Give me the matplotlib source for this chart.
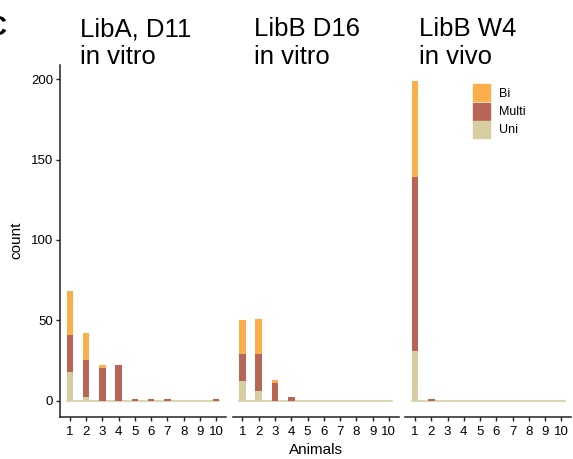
import numpy as np
import matplotlib
matplotlib.use('Agg')
import matplotlib.pyplot as plt
from matplotlib.patches import Patch

plt.rcParams['font.family'] = ['Liberation Sans', 'DejaVu Sans']

animals = [1, 2, 3, 4, 5, 6, 7, 8, 9, 10]
titles = ['LibA, D11\nin vitro', 'LibB D16\nin vitro', 'LibB W4\nin vivo']

# counts per animal, stacked Uni / Multi / Bi
liba_d11_uni   = [18, 2, 0, 0, 0, 0, 0, 0, 0, 0]
liba_d11_multi = [23, 23, 20, 22, 1, 1, 1, 0, 0, 1]
liba_d11_bi    = [27, 17, 2, 0, 0, 0, 0, 0, 0, 0]

libb_d16_uni   = [12, 6, 0, 0, 0, 0, 0, 0, 0, 0]
libb_d16_multi = [17, 23, 11, 2, 0, 0, 0, 0, 0, 0]
libb_d16_bi    = [21, 22, 2, 0, 0, 0, 0, 0, 0, 0]

libb_w4_uni    = [31, 0, 0, 0, 0, 0, 0, 0, 0, 0]
libb_w4_multi  = [108, 1, 0, 0, 0, 0, 0, 0, 0, 0]
libb_w4_bi     = [60, 0, 0, 0, 0, 0, 0, 0, 0, 0]

panels = [
    (liba_d11_uni, liba_d11_multi, liba_d11_bi),
    (libb_d16_uni, libb_d16_multi, libb_d16_bi),
    (libb_w4_uni, libb_w4_multi, libb_w4_bi),
]

col_uni = '#D6CEA0'
col_multi = '#B66557'
col_bi = '#FBAF4C'
axis_col = '#222222'

W, H = 573, 459
fig = plt.figure(figsize=(W / 100, H / 100), dpi=100)

lefts = [60, 232.7, 405.3]
title_x = [80, 254, 419]
pw = 165.9
top, bottom = 65, 416.5
ymax = 199
ylim = (-0.05 * ymax, 1.05 * ymax)
width = 0.4

axes = []
for i, (uni, multi, bi) in enumerate(panels):
    ax = fig.add_axes([lefts[i] / W, (H - bottom) / H, pw / W, (bottom - top) / H])
    x = np.array(animals)
    uni = np.array(uni); multi = np.array(multi); bi = np.array(bi)
    # baseline drawn by the zero-height bars
    ax.plot([x[0] - width / 2, x[-1] + width / 2], [0, 0], color=col_uni, lw=1.2, zorder=1)
    ax.bar(x, uni, width=width, color=col_uni, zorder=2)
    ax.bar(x, multi, width=width, bottom=uni, color=col_multi, zorder=2)
    ax.bar(x, bi, width=width, bottom=uni + multi, color=col_bi, zorder=2)

    ax.set_xlim(0.4, 10.6)
    ax.set_ylim(*ylim)
    ax.set_xticks(animals)
    ax.set_xticklabels([str(a) for a in animals])
    ax.set_yticks([0, 50, 100, 150, 200])
    for s in ['top', 'right']:
        ax.spines[s].set_visible(False)
    ax.spines['bottom'].set_linewidth(1.1)
    ax.spines['bottom'].set_color(axis_col)
    ax.spines['left'].set_linewidth(1.1)
    ax.spines['left'].set_color(axis_col)
    ax.tick_params(axis='both', length=3, width=1.0, color=axis_col,
                   labelsize=9.5, labelcolor='black')
    ax.tick_params(axis='x', pad=3.5)
    ax.tick_params(axis='y', pad=2)
    if i > 0:
        ax.spines['left'].set_visible(False)
        ax.tick_params(axis='y', left=False, labelleft=False)
    fig.text(title_x[i] / W, 1 - 64 / H, titles[i], fontsize=18.5,
             ha='left', va='baseline', linespacing=1.2)
    axes.append(ax)

axes[0].set_ylabel('count', fontsize=11, labelpad=5)
axes[1].set_xlabel('Animals', fontsize=11, labelpad=4)

handles = [Patch(color=col_bi, label='Bi'),
           Patch(color=col_multi, label='Multi'),
           Patch(color=col_uni, label='Uni')]
axes[2].legend(handles=handles, loc='upper left', bbox_to_anchor=(0.408, 0.945),
               frameon=False, fontsize=9, handlelength=1.36, handleheight=1.72,
               labelspacing=0.1, handletextpad=0.7, borderpad=0, borderaxespad=0)

fig.text(-13 / W, 1 - 35 / H, 'C', fontsize=20, fontweight='bold', ha='left', va='baseline')

fig.savefig('out.png', dpi=100)
